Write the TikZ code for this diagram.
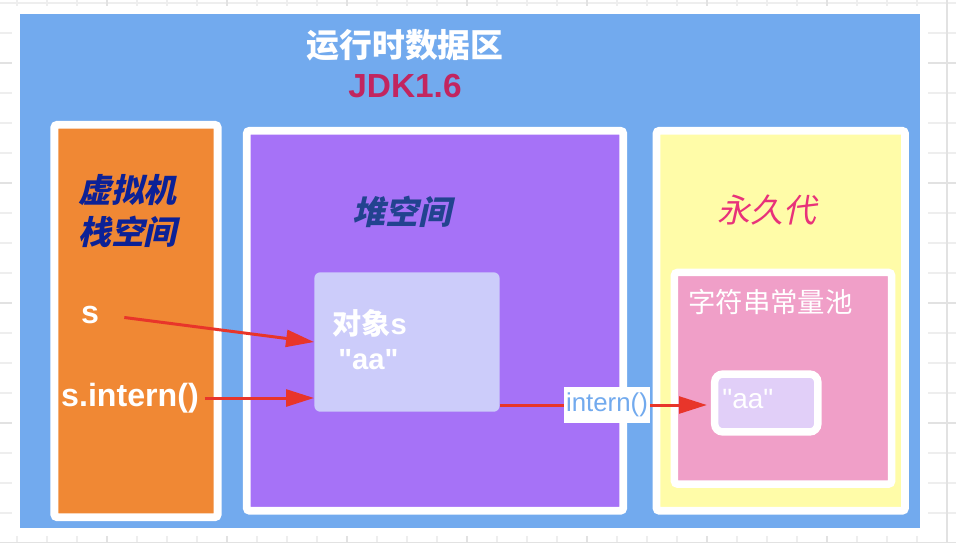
\documentclass[tikz,border=0pt]{standalone}
\usepackage{fontspec}
\usepackage{xcolor}
\usepackage{tikz}
\usetikzlibrary{arrows.meta}

\setmainfont{Liberation Sans}[Ligatures=TeXOff]
\newfontfamily\cjk{Noto Sans CJK SC}
\newfontfamily\cjkit[FakeSlant=0.22]{Noto Sans CJK SC}

% one pixel of the layout
\def\pxu{0.5669pt}

\definecolor{areablue}{HTML}{72AAEE}
\definecolor{stackorange}{HTML}{F08834}
\definecolor{heappurple}{HTML}{A672F7}
\definecolor{permyellow}{HTML}{FFFCA8}
\definecolor{poolpink}{HTML}{F09FC8}
\definecolor{objlilac}{HTML}{CCCCFA}
\definecolor{aalilac}{HTML}{E1CFF8}
\definecolor{arrowred}{HTML}{E8352A}
\definecolor{jdkred}{HTML}{C2255F}
\definecolor{stacknavy}{HTML}{0C2196}
\definecolor{heapnavy}{HTML}{22438F}
\definecolor{permpink}{HTML}{E8327A}
\definecolor{gridgray}{HTML}{EEEEEE}
\definecolor{gridmid}{HTML}{E2E2E2}

\tikzset{
  region/.style={draw=white, line width=4.5pt, rounded corners=1.7pt, inner sep=0pt},
  redarrow/.style={draw=arrowred, line width=1.7pt, -{Triangle[length=15.9pt, width=9.6pt]}},
  redline/.style={draw=arrowred, line width=1.7pt},
  gridminor/.style={draw=gridgray, line width=0.6pt},
  gridmajor/.style={draw=gridmid, line width=1.1pt},
}

\begin{document}
\begin{tikzpicture}[x=0.02cm, y=-0.02cm]
\useasboundingbox (0,0) rectangle (956,542);

% grid behind the area
\foreach \gx in {17,47,...,947} \draw[gridminor] (\gx,0) -- (\gx,542);
\foreach \gy in {3,33,...,543} \draw[gridminor] (0,\gy) -- (956,\gy);
\foreach \gx in {107,227,...,947} \draw[gridmajor] (\gx,0) -- (\gx,542);
\foreach \gy in {63,183,...,543} \draw[gridmajor] (0,\gy) -- (956,\gy);

\path[fill=white] (12,6) rectangle (928,536);
\path[fill=areablue] (20,14) rectangle (920,528);

\node[white, font=\cjk\bfseries\fontsize{18.7}{22}\selectfont] (title) at (405,45) {运行时数据区};
\node[jdkred, font=\bfseries\fontsize{19}{22}\selectfont] (jdk) at (405,86) {JDK1.6};

% the three regions
\node[region, fill=stackorange, minimum width=164*\pxu, minimum height=394*\pxu] (stack) at (136,321) {};
\node[region, fill=heappurple, minimum width=378*\pxu, minimum height=381.5*\pxu] (heap) at (435,320.75) {};
\node[region, fill=permyellow, minimum width=249.5*\pxu, minimum height=381.5*\pxu] (perm) at (780.75,320.75) {};

\node[fill=objlilac, rounded corners=3.4pt, inner sep=0pt, minimum width=186*\pxu, minimum height=140*\pxu] (obj) at (407,342) {};
\node[region, line width=4.25pt, fill=poolpink, minimum width=218*\pxu, minimum height=212.5*\pxu] (pool) at (783,378.25) {};
\node[region, line width=4.25pt, rounded corners=4.5pt, fill=aalilac, minimum width=103.5*\pxu, minimum height=58*\pxu] (aabox) at (766.25,403) {};

\node[stacknavy, font=\cjkit\bfseries\fontsize{18.7}{23.8}\selectfont, align=left, anchor=west] (stacklabel) at (72,211) {虚拟机\\栈空间};
\node[heapnavy, font=\cjkit\bfseries\fontsize{18.7}{22}\selectfont] (heaplabel) at (402,212) {堆空间};
\node[permpink, font=\cjkit\fontsize{18.7}{22}\selectfont] (permlabel) at (767,210) {永久代};

\node[white, font=\bfseries\fontsize{18.3}{22}\selectfont] (s) at (90,315) {s};
\node[white, font=\bfseries\fontsize{18.3}{22}\selectfont] (sintern) at (130,398) {s.intern()};

\node[white, font=\bfseries\fontsize{16.6}{20}\selectfont, anchor=west, inner sep=0pt] (objname) at (332,323) {{\cjk 对象}s};
\node[white, font=\bfseries\fontsize{16.6}{20}\selectfont, anchor=west, inner sep=0pt] (objvalue) at (338,360) {"aa"};

\node[white, font=\cjk\fontsize{15.6}{18}\selectfont, anchor=west, inner sep=0pt] (poolname) at (688,302) {字符串常量池};
\node[white, font=\fontsize{15.9}{18}\selectfont, anchor=west, inner sep=0pt] (poolvalue) at (722,399) {"aa"};

\node[fill=white, text=areablue, font=\fontsize{14.7}{17}\selectfont, inner xsep=1.1pt, minimum height=35*\pxu] (internlbl) at (607,405) {intern()};

% references
\draw[redarrow, shorten <=11pt] (s.east) -- (obj.west);
\draw[redarrow] (sintern.east) -- (obj.west |- sintern.east);
\draw[redline] (obj.east |- internlbl.west) -- (internlbl.west);
\draw[redarrow, shorten >=2.3pt] (internlbl.east) -- (aabox.west |- internlbl.east);

\end{tikzpicture}
\end{document}
